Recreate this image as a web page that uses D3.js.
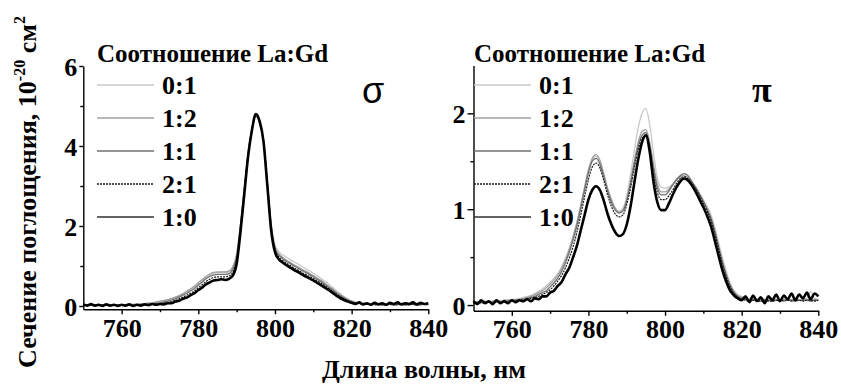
<!DOCTYPE html>
<html>
<head>
<meta charset="utf-8">
<script src="https://cdn.jsdelivr.net/npm/d3@7"></script>
<style>
  body { margin: 0; background: #fff; }
  svg  { display: block; }
</style>
</head>
<body>
<svg id="chart" width="841" height="386"></svg>
<script>
// ===== Data =====
// Sampling grid: 750..840 nm, 1 nm step
const wavelengths = d3.range(750, 841, 1);

const ratios     = ['0:1', '1:2', '1:1', '2:1', '1:0'];
const xTicks     = [760, 780, 800, 820, 840];
const xMinor     = [770, 790, 810, 830];
const sigmaTicks = [0, 2, 4, 6];
const sigmaMinor = [1, 3, 5];
const piTicks    = [0, 1, 2];
const piMinor    = [0.5, 1.5];

// sigma polarisation, absorption cross-section (1e-20 cm^2)
const sigma01 = [
  0.03,0.04,0.03,0.03,0.04,0.03,0.03,0.04,0.03,0.03,
  0.03,0.04,0.04,0.04,0.05,0.05,0.06,0.07,0.08,0.09,
  0.11,0.13,0.15,0.18,0.21,0.25,0.30,0.35,0.41,0.48,
  0.56,0.64,0.72,0.78,0.82,0.83,0.84,0.84,0.86,0.97,
  1.28,2.02,2.92,3.80,4.40,4.72,4.55,4.12,3.12,2.08,
  1.53,1.36,1.28,1.22,1.16,1.10,1.05,0.99,0.93,0.88,
  0.82,0.76,0.69,0.62,0.55,0.47,0.39,0.31,0.24,0.18,
  0.13,0.10,0.08,0.07,0.06,0.06,0.05,0.06,0.05,0.05,
  0.06,0.05,0.06,0.05,0.06,0.05,0.06,0.07,0.05,0.06,
  0.07];
const sigma12 = [
  0.03,0.02,0.03,0.02,0.03,0.02,0.02,0.03,0.02,0.03,
  0.03,0.03,0.03,0.04,0.04,0.05,0.06,0.07,0.08,0.10,
  0.12,0.14,0.16,0.19,0.22,0.26,0.31,0.37,0.43,0.50,
  0.58,0.66,0.74,0.80,0.84,0.85,0.85,0.85,0.87,0.98,
  1.30,2.05,2.95,3.82,4.43,4.76,4.58,4.13,3.10,2.04,
  1.48,1.30,1.22,1.15,1.09,1.03,0.98,0.92,0.87,0.82,
  0.76,0.70,0.64,0.57,0.50,0.43,0.35,0.28,0.22,0.16,
  0.12,0.09,0.07,0.06,0.05,0.05,0.04,0.05,0.04,0.04,
  0.05,0.04,0.04,0.05,0.04,0.04,0.05,0.04,0.04,0.05,
  0.04];
const sigma11 = [
  0.02,0.02,0.02,0.03,0.02,0.02,0.02,0.02,0.02,0.02,
  0.02,0.02,0.03,0.03,0.03,0.04,0.04,0.05,0.06,0.07,
  0.08,0.10,0.12,0.15,0.18,0.22,0.27,0.32,0.38,0.44,
  0.52,0.60,0.68,0.74,0.78,0.79,0.79,0.79,0.81,0.92,
  1.22,2.00,2.90,3.80,4.42,4.76,4.58,4.12,3.08,2.00,
  1.45,1.27,1.19,1.12,1.06,1.00,0.95,0.89,0.84,0.79,
  0.73,0.67,0.61,0.54,0.47,0.40,0.33,0.26,0.20,0.15,
  0.11,0.08,0.07,0.05,0.05,0.04,0.04,0.04,0.03,0.04,
  0.04,0.03,0.04,0.04,0.03,0.04,0.04,0.03,0.04,0.04,
  0.04];
const sigma21 = [
  0.02,0.03,0.02,0.02,0.01,0.02,0.02,0.01,0.02,0.02,
  0.01,0.02,0.02,0.02,0.03,0.03,0.03,0.04,0.05,0.05,
  0.06,0.07,0.09,0.11,0.14,0.18,0.22,0.27,0.32,0.38,
  0.46,0.53,0.61,0.67,0.71,0.73,0.73,0.73,0.75,0.85,
  1.15,1.95,2.85,3.78,4.42,4.78,4.60,4.12,3.05,1.95,
  1.40,1.22,1.14,1.07,1.01,0.95,0.90,0.84,0.79,0.74,
  0.69,0.63,0.57,0.51,0.44,0.37,0.30,0.23,0.18,0.13,
  0.10,0.07,0.06,0.05,0.04,0.04,0.03,0.04,0.03,0.03,
  0.04,0.03,0.03,0.04,0.03,0.03,0.04,0.03,0.03,0.04,
  0.03];
const sigma10 = [
  0.04,0.01,0.05,0.01,0.03,0.00,0.04,0.01,0.03,0.00,
  0.03,0.01,0.04,0.00,0.03,0.01,0.04,0.02,0.05,0.03,
  0.05,0.04,0.07,0.07,0.11,0.13,0.18,0.21,0.27,0.32,
  0.40,0.46,0.54,0.59,0.64,0.65,0.67,0.65,0.68,0.76,
  1.05,1.85,2.80,3.75,4.40,4.80,4.62,4.12,3.02,1.90,
  1.35,1.17,1.09,1.02,0.96,0.90,0.85,0.79,0.74,0.69,
  0.64,0.58,0.52,0.46,0.40,0.33,0.26,0.20,0.15,0.11,
  0.08,0.05,0.09,0.04,0.07,0.03,0.08,0.04,0.07,0.03,
  0.08,0.05,0.09,0.04,0.07,0.05,0.09,0.04,0.08,0.05,
  0.07];

// pi polarisation
const pi01 = [
  0.04,0.03,0.04,0.04,0.03,0.04,0.05,0.04,0.05,0.05,
  0.06,0.06,0.07,0.08,0.09,0.10,0.12,0.14,0.17,0.20,
  0.24,0.28,0.33,0.40,0.49,0.59,0.72,0.87,1.04,1.22,
  1.40,1.51,1.55,1.49,1.36,1.21,1.09,1.01,0.98,1.01,
  1.14,1.36,1.62,1.85,2.00,2.05,1.88,1.58,1.32,1.23,
  1.22,1.23,1.26,1.30,1.33,1.33,1.31,1.27,1.22,1.16,
  1.10,1.03,0.94,0.81,0.65,0.49,0.35,0.23,0.15,0.11,
  0.09,0.08,0.07,0.07,0.06,0.07,0.06,0.06,0.07,0.06,
  0.06,0.07,0.06,0.06,0.07,0.12,0.06,0.07,0.14,0.07,
  0.06];
const pi12 = [
  0.03,0.03,0.03,0.04,0.03,0.04,0.04,0.04,0.05,0.05,
  0.05,0.06,0.06,0.07,0.08,0.09,0.11,0.13,0.15,0.18,
  0.22,0.26,0.31,0.38,0.47,0.58,0.71,0.86,1.04,1.23,
  1.41,1.53,1.57,1.51,1.37,1.22,1.10,1.01,0.97,0.99,
  1.10,1.29,1.51,1.70,1.81,1.83,1.70,1.46,1.26,1.18,
  1.18,1.21,1.26,1.31,1.34,1.35,1.33,1.28,1.22,1.15,
  1.08,1.00,0.91,0.77,0.61,0.45,0.32,0.21,0.14,0.10,
  0.08,0.07,0.06,0.06,0.05,0.06,0.05,0.05,0.06,0.05,
  0.05,0.06,0.05,0.05,0.06,0.05,0.05,0.06,0.05,0.06,
  0.05];
const pi11 = [
  0.02,0.02,0.03,0.02,0.03,0.03,0.03,0.03,0.04,0.04,
  0.04,0.05,0.05,0.06,0.07,0.08,0.09,0.11,0.13,0.15,
  0.19,0.23,0.28,0.35,0.44,0.55,0.68,0.83,1.01,1.20,
  1.38,1.50,1.53,1.47,1.34,1.19,1.07,0.99,0.96,0.98,
  1.09,1.27,1.48,1.66,1.77,1.80,1.66,1.42,1.22,1.15,
  1.15,1.19,1.25,1.31,1.35,1.37,1.35,1.29,1.23,1.16,
  1.08,1.00,0.90,0.76,0.60,0.44,0.31,0.20,0.13,0.09,
  0.07,0.06,0.05,0.05,0.05,0.04,0.05,0.05,0.04,0.05,
  0.05,0.04,0.05,0.05,0.04,0.05,0.05,0.05,0.04,0.05,
  0.05];
const pi21 = [
  0.02,0.03,0.02,0.03,0.03,0.02,0.03,0.03,0.03,0.03,
  0.04,0.04,0.05,0.05,0.06,0.07,0.08,0.09,0.11,0.13,
  0.16,0.20,0.25,0.31,0.39,0.49,0.61,0.76,0.94,1.13,
  1.31,1.44,1.48,1.43,1.30,1.15,1.03,0.95,0.92,0.94,
  1.05,1.22,1.43,1.62,1.74,1.76,1.62,1.36,1.17,1.10,
  1.10,1.14,1.20,1.27,1.32,1.34,1.32,1.27,1.21,1.14,
  1.06,0.98,0.88,0.74,0.58,0.42,0.29,0.19,0.12,0.08,
  0.06,0.05,0.04,0.05,0.04,0.04,0.05,0.04,0.04,0.05,
  0.04,0.05,0.05,0.04,0.05,0.05,0.04,0.05,0.05,0.04,
  0.05];
const pi10 = [
  0.04,0.01,0.05,0.02,0.04,0.01,0.05,0.02,0.04,0.02,
  0.05,0.03,0.05,0.04,0.06,0.04,0.07,0.06,0.09,0.09,
  0.13,0.15,0.20,0.24,0.32,0.39,0.50,0.62,0.78,0.94,
  1.10,1.20,1.24,1.20,1.09,0.95,0.84,0.76,0.72,0.74,
  0.84,1.03,1.28,1.52,1.70,1.77,1.60,1.28,1.07,0.99,
  0.99,1.06,1.15,1.23,1.29,1.32,1.30,1.25,1.18,1.10,
  1.02,0.93,0.82,0.67,0.51,0.36,0.24,0.15,0.10,0.07,
  0.05,0.09,0.03,0.10,0.04,0.08,0.02,0.09,0.05,0.11,
  0.04,0.10,0.06,0.12,0.05,0.11,0.07,0.13,0.06,0.12,
  0.09];

// ===== Styles =====
const seriesStyle = {
  '0:1': { stroke: '#c8c8c8', width: 1.3, dash: null },
  '1:2': { stroke: '#a0a0a0', width: 1.3, dash: null },
  '1:1': { stroke: '#707070', width: 1.3, dash: null },
  '2:1': { stroke: '#1a1a1a', width: 1.2, dash: '2,1' },
  '1:0': { stroke: '#000',    width: 2.6, dash: null }
};
const SERIF = '"Liberation Serif"';
const svg = d3.select('#chart');

// Bold serif text helper
function boldText(sel, size) {
  return sel
    .style('font-family', SERIF)
    .style('font-weight', 'bold')
    .style('font-size', size + 'px')
    .attr('fill', '#000');
}

// ===== Panel builder =====
function drawPanel(cfg) {
  const { xRange, yDomain, yRange, series, majorY, minorY, legendX, symbol, symbolSans, symbolPos, yTickSize } = cfg;

  const x = d3.scaleLinear().domain([750, 840]).range(xRange);
  const y = d3.scaleLinear().domain(yDomain).range(yRange);
  const g = svg.append('g');

  // --- spectra ---
  const line = d3.line()
    .x((d, i) => x(wavelengths[i]))
    .y(d => y(d))
    .curve(d3.curveMonotoneX);

  ratios.forEach((r, k) => {
    const st = seriesStyle[r];
    g.append('path')
      .datum(series[k])
      .attr('d', line)
      .attr('fill', 'none')
      .attr('stroke', st.stroke)
      .attr('stroke-width', st.width)
      .attr('stroke-dasharray', st.dash)
      .attr('stroke-linejoin', 'round');
  });

  // --- axes ---
  const xAxisY = y(yDomain[0]);
  const styleAxis = sel => {
    sel.selectAll('path, line').attr('stroke', '#000').attr('stroke-width', 1.4);
    boldText(sel.selectAll('text'), 26);
  };

  g.append('g')
    .attr('transform', `translate(0,${xAxisY})`)
    .call(d3.axisBottom(x).tickValues(xTicks).tickSize(5).tickSizeOuter(0).tickPadding(4))
    .call(styleAxis);
  g.append('g')
    .attr('transform', `translate(0,${xAxisY})`)
    .call(d3.axisBottom(x).tickValues(xMinor).tickSize(3).tickFormat(''))
    .call(sel => sel.select('.domain').remove())
    .call(styleAxis);

  g.append('g')
    .attr('transform', `translate(${xRange[0]},0)`)
    .call(d3.axisLeft(y).tickValues(majorY).tickSize(yTickSize).tickSizeOuter(0).tickPadding(2).tickFormat(d3.format('d')))
    .call(styleAxis)
    .call(sel => sel.selectAll('text').attr('dy', '0.36em'));
  g.append('g')
    .attr('transform', `translate(${xRange[0]},0)`)
    .call(d3.axisLeft(y).tickValues(minorY).tickSize(3).tickFormat(''))
    .call(sel => sel.select('.domain').remove())
    .call(styleAxis);

  // --- legend ---
  const legend = g.append('g').attr('transform', `translate(${legendX},0)`);
  boldText(legend.append('text'), 25)
    .attr('x', 0).attr('y', 62)
    .text('Соотношение La:Gd');

  ratios.forEach((r, k) => {
    const st = seriesStyle[r];
    const ly = 85 + k * 33;
    legend.append('line')
      .attr('x1', 0).attr('y1', ly)
      .attr('x2', 57).attr('y2', ly)
      .attr('stroke', r === '1:0' ? '#303030' : st.stroke)
      .attr('stroke-width', 1.6)
      .attr('stroke-dasharray', st.dash);
    boldText(legend.append('text'), 26)
      .attr('x', 65).attr('y', ly + 9)
      .text(r);
  });

  // --- polarisation symbol ---
  const sym = g.append('text')
    .attr('x', symbolPos[0]).attr('y', symbolPos[1])
    .text(symbol);
  if (symbolSans) {
    sym.style('font-family', '"Liberation Sans"').style('font-size', '36px');
  } else {
    boldText(sym, 36);
  }
}

drawPanel({
  xRange: [83.3, 428.3], yDomain: [-0.08, 6], yRange: [309.2, 66],
  series: [sigma01, sigma12, sigma11, sigma21, sigma10],
  majorY: sigmaTicks, minorY: sigmaMinor, yTickSize: 4,
  legendX: 97,
  symbol: 'σ', symbolSans: true,
  symbolPos: [362, 103]
});

drawPanel({
  xRange: [473.5, 818.3], yDomain: [-0.06, 2.5], yRange: [310.8, 65.4],
  series: [pi01, pi12, pi11, pi21, pi10],
  majorY: piTicks, minorY: piMinor, yTickSize: 6,
  legendX: 474,
  symbol: 'π', symbolSans: false,
  symbolPos: [752, 102]
});

// ===== Axis titles =====
boldText(svg.append('text'), 26)
  .attr('x', 424).attr('y', 378)
  .attr('text-anchor', 'middle')
  .text('Длина волны, нм');

const yTitle = boldText(svg.append('text'), 26)
  .attr('transform', 'translate(36,192) rotate(-90)')
  .attr('text-anchor', 'middle');
yTitle.append('tspan').text('Сечение поглощения, 10');
yTitle.append('tspan').attr('dy', -11).style('font-size', '16px').text('-20');
yTitle.append('tspan').attr('dy', 11).text(' см');
yTitle.append('tspan').attr('dy', -11).style('font-size', '16px').text('2');
</script>
</body>
</html>
